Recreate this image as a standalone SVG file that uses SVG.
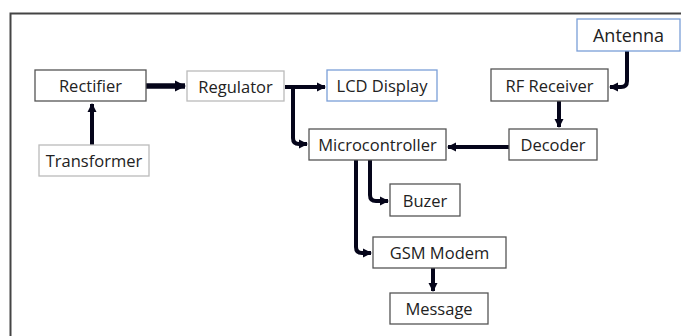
<svg xmlns="http://www.w3.org/2000/svg" width="681" height="336" viewBox="0 0 681 336">
<defs>
<style>
.box{fill:#fff;stroke:#555;stroke-width:1.3}
.lt{fill:#fff;stroke:#bbb;stroke-width:1.3}
.bl{fill:#fff;stroke:#7a9fd8;stroke-width:1.3}
.t{font-family:"Open Sans","Liberation Sans",sans-serif;font-size:16.5px;fill:#222;text-anchor:middle;dominant-baseline:central}
.c{fill:none;stroke:#05051a;stroke-width:4;stroke-linejoin:round}
</style>
<marker id="ah" markerUnits="userSpaceOnUse" markerWidth="10" markerHeight="10" viewBox="0 0 10 10" refX="8" refY="5" orient="auto">
<path d="M0 0.5 L9 5 L0 9.5 Z" fill="#05051a"/>
</marker>
<marker id="ahb" markerUnits="userSpaceOnUse" markerWidth="12" markerHeight="12" viewBox="0 0 12 12" refX="10" refY="6" orient="auto">
<path d="M0 0.5 L11 6 L0 11.5 Z" fill="#05051a"/>
</marker>
</defs>
<rect width="681" height="336" fill="#fff"/>
<path d="M10.5 336 V13.5 H681" fill="none" stroke="#444" stroke-width="2"/>
<g id="connectors">
<path class="c" d="M92 145 V104" marker-end="url(#ah)"/>
<path class="c" d="M146 86 H185" style="stroke-width:5.5" marker-end="url(#ahb)"/>
<path class="c" d="M285 87 H325" marker-end="url(#ah)"/>
<path class="c" d="M285 87 H293 V138 Q293 144 299 144 H307" marker-end="url(#ah)"/>
<path class="c" d="M627 51 V81 Q627 87 621 87 H610" marker-end="url(#ah)"/>
<path class="c" d="M559 101 V127" marker-end="url(#ah)"/>
<path class="c" d="M509 147 H448" marker-end="url(#ah)"/>
<path class="c" d="M370 160 V195 Q370 201 376 201 H388" marker-end="url(#ah)"/>
<path class="c" d="M356 160 V247 Q356 253 362 253 H371" marker-end="url(#ah)"/>
<path class="c" d="M433 268 V291" marker-end="url(#ah)"/>
</g>
<g id="rectifier"><rect class="box" x="35" y="70" width="111" height="31"/><text class="t" x="90.5" y="85.5">Rectifier</text></g>
<g id="regulator"><rect class="lt" x="187" y="71" width="97" height="30"/><text class="t" x="235.5" y="86">Regulator</text></g>
<g id="transformer"><rect class="lt" x="39" y="145" width="110" height="31"/><text class="t" x="94" y="160.5">Transformer</text></g>
<g id="lcd"><rect class="bl" x="327" y="70" width="110" height="31"/><text class="t" x="382" y="85.5">LCD Display</text></g>
<g id="antenna"><rect class="bl" x="577" y="19" width="103" height="32"/><text class="t" x="628.5" y="35" style="font-size:18px">Antenna</text></g>
<g id="rfreceiver"><rect class="box" x="491" y="69" width="117" height="32"/><text class="t" x="549.5" y="85">RF Receiver</text></g>
<g id="decoder"><rect class="box" x="509" y="129" width="88" height="31"/><text class="t" x="553" y="144.5">Decoder</text></g>
<g id="microcontroller"><rect class="box" x="309" y="129" width="137" height="31"/><text class="t" x="377.5" y="144.5">Microcontroller</text></g>
<g id="buzer"><rect class="box" x="390" y="184" width="70" height="32"/><text class="t" x="425" y="200">Buzer</text></g>
<g id="gsm"><rect class="box" x="373" y="237" width="133" height="31"/><text class="t" x="439.5" y="252.5">GSM Modem</text></g>
<g id="message"><rect class="box" x="390" y="293" width="98" height="31"/><text class="t" x="439" y="308.5">Message</text></g>
</svg>
